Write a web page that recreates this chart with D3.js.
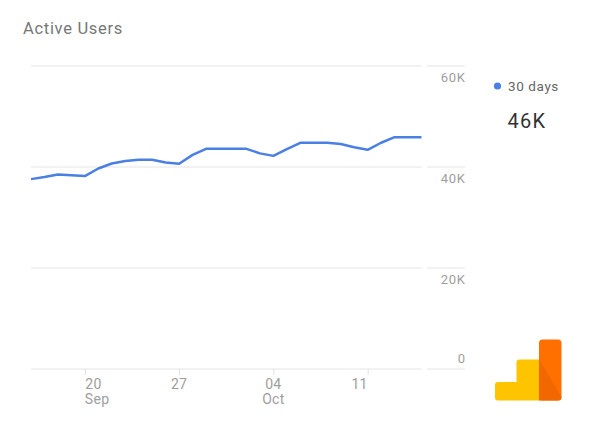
<!DOCTYPE html>
<html>
<head>
<meta charset="utf-8">
<script src="https://cdn.jsdelivr.net/npm/d3@7"></script>
<style>
  body { margin: 0; background: #fff; }
  text { font-family: Roboto, "Noto Sans", sans-serif; }
</style>
</head>
<body>
<div id="chart"></div>
<script>
// daily active users, Sep 16 - Oct 15
const days = [
  "2018-09-16", "2018-09-17", "2018-09-18", "2018-09-19", "2018-09-20",
  "2018-09-21", "2018-09-22", "2018-09-23", "2018-09-24", "2018-09-25",
  "2018-09-26", "2018-09-27", "2018-09-28", "2018-09-29", "2018-09-30",
  "2018-10-01", "2018-10-02", "2018-10-03", "2018-10-04", "2018-10-05",
  "2018-10-06", "2018-10-07", "2018-10-08", "2018-10-09", "2018-10-10",
  "2018-10-11", "2018-10-12", "2018-10-13", "2018-10-14", "2018-10-15"
];
const users = [
  37600, 38000, 38500, 38350, 38200, 39700, 40700, 41200, 41450, 41450,
  40900, 40650, 42400, 43600, 43600, 43600, 43600, 42700, 42200, 43550,
  44800, 44800, 44800, 44550, 43900, 43400, 44800, 45900, 45900, 45900
];
const yTicks = [0, 20000, 40000, 60000];
const yTickLabels = ["0", "20K", "40K", "60K"];
const xTicks = ["2018-09-20", "2018-09-27", "2018-10-04", "2018-10-11"];
const xTickLabels = [["20", "Sep"], ["27", ""], ["04", "Oct"], ["11", ""]];
const legendLabel = "30 days";
const legendValue = "46K";

const width = 601, height = 428;
const plot = {left: 31, right: 421.5, top: 66, bottom: 369};
const labelRight = 465;

const parse = d3.timeParse("%Y-%m-%d");
const data = days.map((d, i) => ({date: parse(d), value: users[i]}));

const svg = d3.select("#chart").append("svg")
    .attr("width", width)
    .attr("height", height);

svg.append("text")
    .attr("x", 23)
    .attr("y", 33.5)
    .attr("font-size", "16.5px")
    .attr("letter-spacing", "0.7px")
    .attr("fill", "#777")
    .text("Active Users");

const x = d3.scaleTime()
    .domain(d3.extent(data, d => d.date))
    .range([plot.left, plot.right]);

const y = d3.scaleLinear()
    .domain([0, 60000])
    .range([plot.bottom, plot.top]);

// gridlines, split in two with a small gap before the labels
const grid = svg.append("g");
yTicks.forEach(t => {
  grid.append("line")
      .attr("x1", plot.left).attr("x2", plot.right)
      .attr("y1", y(t)).attr("y2", y(t))
      .attr("stroke", "#e4e4e4").attr("stroke-width", 1);
  grid.append("line")
      .attr("x1", plot.right + 5.5).attr("x2", labelRight)
      .attr("y1", y(t)).attr("y2", y(t))
      .attr("stroke", "#e4e4e4").attr("stroke-width", 1);
});

// y labels, right aligned, below the gridline (zero sits above)
svg.append("g")
  .selectAll("text")
  .data(yTicks)
  .join("text")
    .attr("x", labelRight + 0.7)
    .attr("y", d => d === 0 ? y(d) - 6 : y(d) + 15.5)
    .attr("text-anchor", "end")
    .attr("font-size", "13px")
    .attr("letter-spacing", "0.7px")
    .attr("fill", "#9e9e9e")
    .text((d, i) => yTickLabels[i]);

// x axis
const xAxis = svg.append("g")
    .attr("transform", `translate(0,${plot.bottom})`)
    .call(d3.axisBottom(x)
      .tickValues(xTicks.map(parse))
      .tickSize(6)
      .tickFormat(""));
xAxis.select(".domain").remove();
xAxis.selectAll(".tick line").attr("stroke", "#e0e0e0");

const xl = svg.append("g")
  .selectAll("text")
  .data(xTicks)
  .join("text")
    .attr("x", d => x(parse(d)))
    .attr("y", plot.bottom + 20)
    .attr("text-anchor", (d, i) => i === 0 ? "start" : "middle")
    .attr("dx", (d, i) => i === 0 ? 0.5 : (i === 3 ? -8 : 0))
    .attr("font-size", "14px")
    .attr("letter-spacing", "0.3px")
    .attr("fill", "#9e9e9e");
xl.append("tspan").text((d, i) => xTickLabels[i][0]);
xl.append("tspan")
    .attr("x", d => x(parse(d)))
    .attr("dy", 15)
    .text((d, i) => xTickLabels[i][1]);

// the series
svg.append("path")
    .datum(data)
    .attr("fill", "none")
    .attr("stroke", "#4a7fe4")
    .attr("stroke-width", 2.5)
    .attr("stroke-linejoin", "round")
    .attr("d", d3.line().x(d => x(d.date)).y(d => y(d.value)));

// legend
svg.append("circle")
    .attr("cx", 497.5).attr("cy", 86)
    .attr("r", 3.6)
    .attr("fill", "#4a7fe4");
svg.append("text")
    .attr("x", 508)
    .attr("y", 91)
    .attr("font-size", "13.5px")
    .attr("letter-spacing", "0.6px")
    .attr("fill", "#666")
    .text(legendLabel);
svg.append("text")
    .attr("x", 507.5)
    .attr("y", 127.5)
    .attr("font-size", "20px")
    .attr("letter-spacing", "1.2px")
    .attr("fill", "#333")
    .text(legendValue);

// analytics logo
const logo = svg.append("g");
logo.append("rect")
    .attr("x", 495).attr("y", 382).attr("width", 26).attr("height", 18.5)
    .attr("rx", 3).attr("fill", "#ffc400");
logo.append("rect")
    .attr("x", 516.5).attr("y", 359.5).attr("width", 26).attr("height", 41)
    .attr("rx", 3).attr("fill", "#ffc400");
logo.append("rect")
    .attr("x", 539).attr("y", 339.5).attr("width", 22.5).attr("height", 61)
    .attr("rx", 3.5).attr("fill", "#ff7000");
logo.append("path")
    .attr("d", "M539,359.5 L561.5,397 Q561.5,400.5 558,400.5 L539,400.5 Z")
    .attr("fill", "#f26700");
</script>
</body>
</html>
